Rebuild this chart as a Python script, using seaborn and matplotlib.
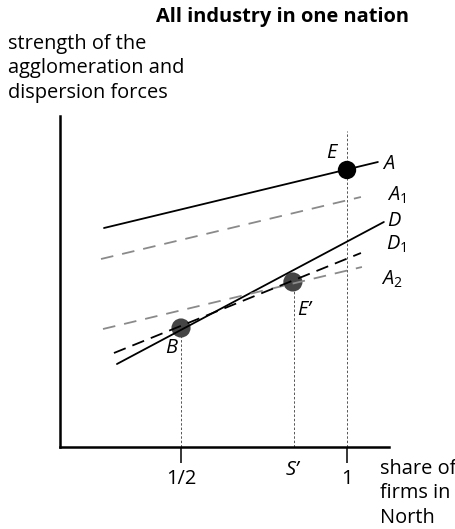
import matplotlib
matplotlib.use("Agg")
import matplotlib.pyplot as plt
import seaborn as sns

# curves: share of firms in North (x) vs force strength (y)
x_A = [0.268, 1.093]
y_A = [2.19, 2.85]
x_A1 = [0.259, 1.042]
y_A1 = [1.88, 2.50]
x_A2 = [0.265, 1.045]
y_A2 = [1.18, 1.80]
x_D = [0.307, 1.111]
y_D = [0.83, 2.25]
x_D1 = [0.298, 1.042]
y_D1 = [0.94, 1.94]

# equilibrium points
eq_x = [0.5, 0.837]
eq_y = [1.19, 1.65]
E_x = [1.0]
E_y = [2.77]
S_prime = 0.84

tick_pos = [0.5, 1.0]
tick_labels = ["1/2", "1"]

sns.set_style("ticks")
plt.rcParams["font.family"] = ["Open Sans", "DejaVu Sans"]
plt.rcParams["mathtext.fontset"] = "custom"
plt.rcParams["mathtext.it"] = "Open Sans:italic"
plt.rcParams["mathtext.rm"] = "Open Sans"
plt.rcParams["text.color"] = "black"
plt.rcParams["xtick.color"] = "black"

fig = plt.figure(figsize=(4.56, 5.29), dpi=100)
ax = fig.add_axes([60/456, 82/529, 329/456, 331/529])
ax.set_xlim(0.1355, 1.1265)
ax.set_ylim(0, 3.31)

fs = 14.4
gray = "#8a8a8a"

sns.lineplot(x=x_A, y=y_A, ax=ax, color="black", linewidth=1.3, zorder=4)
sns.lineplot(x=x_D, y=y_D, ax=ax, color="black", linewidth=1.3, zorder=4)
sns.lineplot(x=x_A1, y=y_A1, ax=ax, color=gray, linewidth=1.3, linestyle=(0, (7, 5)), zorder=4)
sns.lineplot(x=x_A2, y=y_A2, ax=ax, color=gray, linewidth=1.3, linestyle=(0, (7, 5)), zorder=4)
sns.lineplot(x=x_D1, y=y_D1, ax=ax, color="black", linewidth=1.3, linestyle=(0, (7, 4)), zorder=4)

# guide lines
ax.plot([0.5, 0.5], [0, eq_y[0]], color="#555555", lw=0.7, ls=(0, (2.5, 2)), zorder=2)
ax.plot([S_prime, S_prime], [0, eq_y[1]], color="#555555", lw=0.7, ls=(0, (2.5, 2)), zorder=2)
ax.plot([1.0, 1.0], [0, 3.16], color="#555555", lw=0.7, ls=(0, (2.5, 2)), zorder=2)

sns.scatterplot(x=eq_x, y=eq_y, ax=ax, s=190, color="#454545", edgecolor="none", zorder=3)
sns.scatterplot(x=E_x, y=E_y, ax=ax, s=175, color="black", edgecolor="none", zorder=5)

sns.despine(ax=ax)
for sp in ["left", "bottom"]:
    ax.spines[sp].set_linewidth(1.8)
    ax.spines[sp].set_color("black")
ax.set_yticks([])
ax.set_xticks(tick_pos)
ax.set_xticklabels(tick_labels, fontsize=fs)
ax.tick_params(axis="x", length=11.5, width=1.1, pad=4)

def lab(x, y, s, **kw):
    ax.text(x, y, s, fontsize=fs, style="italic", ha="center", va="center", clip_on=False, **kw)

lab(0.954, 2.94, "E")
lab(1.126, 2.83, "A")
lab(1.15, 2.52, "$A_1$")
lab(1.141, 2.26, "D")
lab(1.148, 2.03, "$D_1$")
lab(1.135, 1.68, "$A_2$")
lab(0.870, 1.37, "E’")
lab(0.470, 0.99, "B")
lab(0.835, -0.23, "S’")

ax.text(380/332 - 15/332, -0.12, "share of\nfirms in\nNorth", fontsize=fs, ha="left", va="top",
        linespacing=1.3, clip_on=False)

fig.text(283/456, 1 - 17/529, "All industry in one nation", fontsize=fs, fontweight="bold",
         ha="center", va="center")
fig.text(8/456, 1 - 34/529, "strength of the\nagglomeration and\ndispersion forces", fontsize=fs,
         ha="left", va="top", linespacing=1.3)

fig.savefig("out.png", dpi=100)
